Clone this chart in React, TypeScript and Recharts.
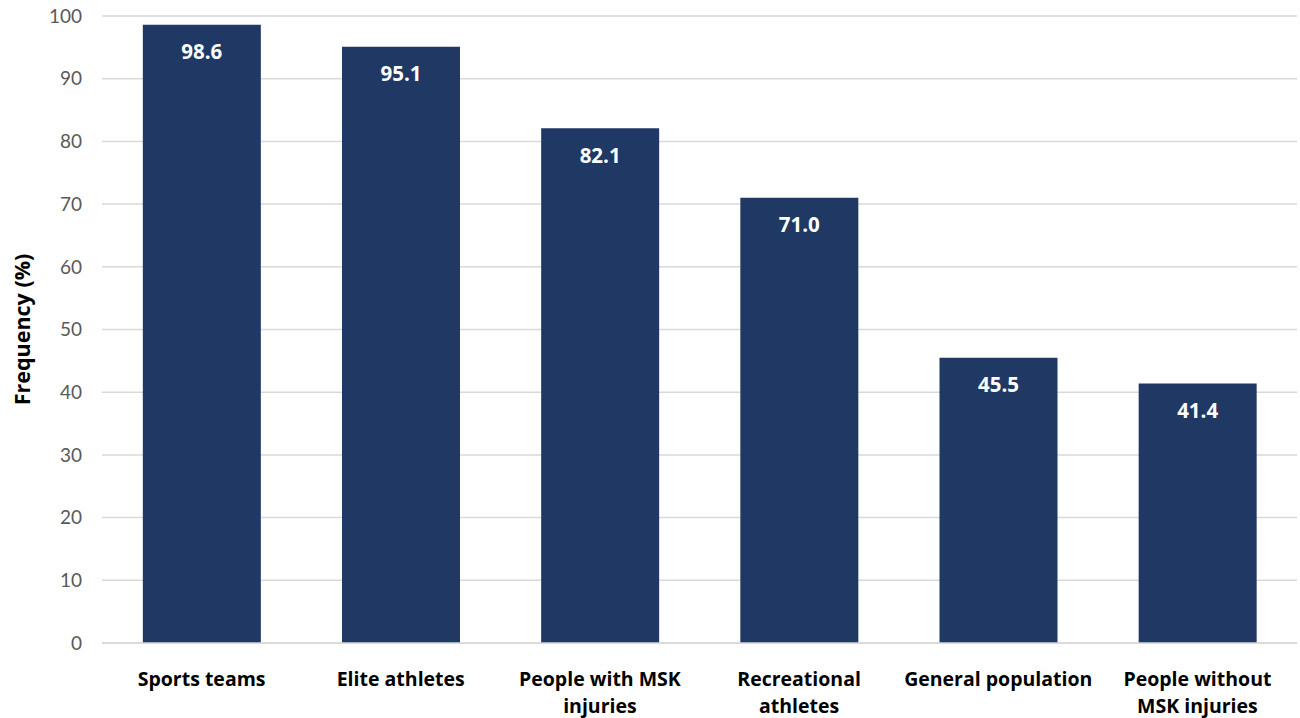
import { Bar, BarChart, CartesianGrid, LabelList, XAxis, YAxis } from "recharts";

const CATEGORIES = [
  "Sports teams",
  "Elite athletes",
  "People with MSK injuries",
  "Recreational athletes",
  "General population",
  "People without MSK injuries",
];

// how each category label breaks onto lines under the axis
const TICK_LINES: Record<string, string[]> = {
  "Sports teams": ["Sports teams"],
  "Elite athletes": ["Elite athletes"],
  "People with MSK injuries": ["People with MSK", "injuries"],
  "Recreational athletes": ["Recreational", "athletes"],
  "General population": ["General population"],
  "People without MSK injuries": ["People without", "MSK injuries"],
};

const FREQUENCY = [98.6, 95.1, 82.1, 71.0, 45.5, 41.4];

const Y_TICKS = [0, 10, 20, 30, 40, 50, 60, 70, 80, 90, 100];

const FONT = "Lato, 'Open Sans', sans-serif";
const BOLD_FONT = "'Open Sans', Lato, sans-serif";
const BAR_COLOR = "#203864";

const data = CATEGORIES.map((name, i) => ({ name, value: FREQUENCY[i] }));

function CategoryTick(props: any) {
  const { x, y, payload } = props;
  const lines = TICK_LINES[payload.value] ?? [payload.value];
  return (
    <g transform={`translate(${x},${y})`}>
      {lines.map((line, i) => (
        <text
          key={i}
          x={0}
          y={35 + i * 27}
          textAnchor="middle"
          fontFamily={BOLD_FONT}
          fontWeight={700}
          fontSize={19.5}
          fill="#000"
        >
          {line}
        </text>
      ))}
    </g>
  );
}

export default function App() {
  return (
    <div style={{ position: "absolute", left: 0, top: 0, background: "#fff" }}>
      <BarChart
        width={1300}
        height={718}
        data={data}
        margin={{ top: 16, right: 3, bottom: 0, left: 0 }}
        barCategoryGap="20.5%"
      >
        <CartesianGrid vertical={false} stroke="#d9d9d9" strokeWidth={1.5} />
        <XAxis
          dataKey="name"
          axisLine={{ stroke: "#d9d9d9", strokeWidth: 1.5 }}
          tickLine={false}
          height={75}
          interval={0}
          tick={<CategoryTick />}
        />
        <YAxis
          domain={[0, 100]}
          ticks={Y_TICKS}
          width={102}
          axisLine={false}
          tickLine={false}
          tickMargin={14}
          tick={{ fontFamily: FONT, fontSize: 19, fill: "#595959" }}
          label={{
            value: "Frequency (%)",
            angle: -90,
            position: "insideLeft",
            offset: 22,
            style: {
              fontFamily: BOLD_FONT,
              fontWeight: 700,
              fontSize: 21.5,
              fill: "#000",
              textAnchor: "middle",
            },
          }}
        />
        <Bar dataKey="value" fill={BAR_COLOR} isAnimationActive={false}>
          <LabelList
            dataKey="value"
            position="insideTop"
            offset={20}
            formatter={(v: any) => Number(v).toFixed(1)}
            style={{ fontFamily: BOLD_FONT, fontWeight: 700, fontSize: 20.5, fill: "#fff" }}
          />
        </Bar>
      </BarChart>
    </div>
  );
}
